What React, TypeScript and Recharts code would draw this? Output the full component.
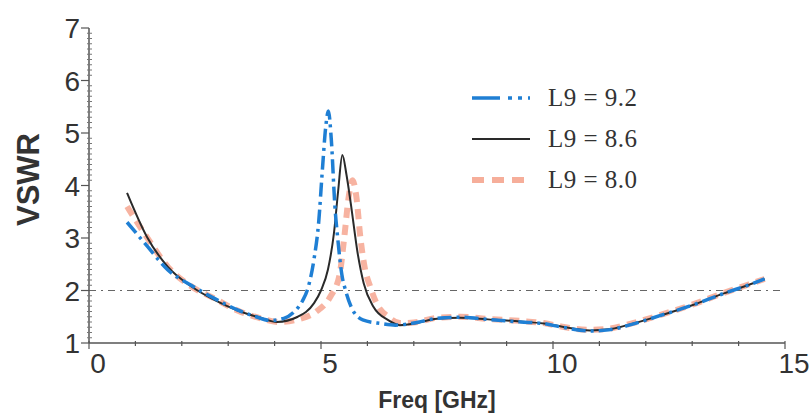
import React from 'react';
import { LineChart, Line, XAxis, YAxis, ReferenceLine } from 'recharts';

// ---- Data ----
const FREQ_92 = [0.82, 1.25, 1.7, 2.2, 2.7, 3.2, 3.6, 3.9, 4.2, 4.45, 4.6, 4.72, 4.85, 4.95, 5.03, 5.1, 5.16, 5.22, 5.3, 5.36, 5.45, 5.53, 5.65, 5.9, 6.3, 6.6, 7.0, 7.5, 8.0, 8.6, 9.3, 9.8, 10.2, 10.8, 11.2, 11.6, 12.3, 13.0, 13.7, 14.2, 14.56];
const VSWR_92 = [3.30, 2.85, 2.39, 2.10, 1.85, 1.63, 1.50, 1.43, 1.47, 1.62, 1.80, 2.05, 2.6, 3.3, 4.3, 5.1, 5.42, 4.9, 3.6, 3.0, 2.3, 2.0, 1.69, 1.44, 1.37, 1.34, 1.38, 1.47, 1.49, 1.45, 1.40, 1.37, 1.30, 1.23, 1.25, 1.33, 1.52, 1.72, 1.95, 2.10, 2.22];

const FREQ_86 = [0.82, 1.25, 1.7, 2.2, 2.7, 3.2, 3.7, 4.05, 4.5, 4.85, 5.0, 5.15, 5.28, 5.37, 5.46, 5.55, 5.64, 5.79, 5.92, 6.13, 6.44, 6.7, 7.0, 7.5, 8.0, 8.6, 9.3, 9.8, 10.2, 10.8, 11.2, 11.6, 12.3, 13.0, 13.7, 14.2, 14.56];
const VSWR_86 = [3.86, 3.02, 2.45, 2.08, 1.82, 1.62, 1.48, 1.40, 1.50, 1.76, 2.0, 2.4, 3.1, 3.9, 4.58, 4.2, 3.67, 2.71, 2.14, 1.69, 1.44, 1.34, 1.37, 1.46, 1.48, 1.45, 1.41, 1.37, 1.31, 1.24, 1.26, 1.34, 1.52, 1.72, 1.95, 2.10, 2.22];

const FREQ_80 = [0.82, 1.2, 1.7, 2.2, 2.7, 3.2, 3.7, 4.1, 4.5, 4.9, 5.2, 5.4, 5.5, 5.6, 5.68, 5.76, 5.85, 5.95, 6.05, 6.2, 6.45, 6.7, 7.0, 7.5, 8.0, 8.6, 9.3, 9.8, 10.2, 10.8, 11.2, 11.6, 12.3, 13.0, 13.7, 14.2, 14.56];
const VSWR_80 = [3.6, 3.08, 2.45, 2.08, 1.85, 1.62, 1.47, 1.40, 1.45, 1.60, 1.88, 2.3, 3.0, 3.8, 4.1, 3.8, 3.0, 2.4, 2.1, 1.75, 1.5, 1.38, 1.39, 1.48, 1.50, 1.46, 1.42, 1.38, 1.31, 1.25, 1.27, 1.35, 1.53, 1.73, 1.96, 2.11, 2.22];

const LEGEND_LABELS = ['L9 = 9.2', 'L9 = 8.6', 'L9 = 8.0'];
const X_MAJOR = [0, 5, 10, 15];
const X_TICKS = [0, 1, 2, 3, 4, 5, 6, 7, 8, 9, 10, 11, 12, 13, 14, 15];
const Y_MAJOR = [1, 2, 3, 4, 5, 6, 7];
const Y_TICKS = Array.from({ length: 61 }, (_, i) => Math.round((1 + i / 10) * 10) / 10);
const THRESHOLD = 2;

const toRows = (fs: number[], vs: number[]) => fs.map((f, i) => ({ f, v: vs[i] }));
const data92 = toRows(FREQ_92, VSWR_92);
const data86 = toRows(FREQ_86, VSWR_86);
const data80 = toRows(FREQ_80, VSWR_80);

const BLUE = '#1f7fd4';
const BLACK = '#2a2a2a';
const RED = '#f5a089';
const AXIS = '#555';

const XTick = (props: any) => {
  const { x, y, payload } = props;
  const major = X_MAJOR.includes(payload.value);
  return (
    <g>
      <line x1={x} x2={x} y1={y - 2} y2={y + (major ? 6 : 3)} stroke={AXIS} strokeWidth={1.2} />
      {major && (
        <text x={x + 9} y={y + 30} textAnchor="middle" fontFamily="Liberation Sans, Arial, sans-serif" fontSize={28} fill="#333">
          {payload.value}
        </text>
      )}
    </g>
  );
};

const YTick = (props: any) => {
  const { x, y, payload } = props;
  const major = Y_MAJOR.includes(payload.value);
  return (
    <g>
      {major ? (
        <line x1={x - 8} x2={x} y1={y} y2={y} stroke={AXIS} strokeWidth={1.2} />
      ) : (
        <line x1={x - 2} x2={x + 3} y1={y} y2={y} stroke="#777" strokeWidth={1} />
      )}
      {major && (
        <text x={x - 9} y={y + 10} textAnchor="end" fontFamily="Liberation Sans, Arial, sans-serif" fontSize={28} fill="#333">
          {payload.value}
        </text>
      )}
    </g>
  );
};

const XLabel = (props: any) => {
  const vb = props.viewBox;
  return (
    <text x={vb.x + vb.width / 2} y={vb.y + vb.height - 6} textAnchor="middle" fontFamily="Liberation Sans, Arial, sans-serif" fontSize={23} fontWeight="bold" fill="#333">
      Freq [GHz]
    </text>
  );
};

const YLabel = (props: any) => {
  const vb = props.viewBox;
  const cx = vb.x + 39;
  const cy = vb.y + vb.height / 2 - 6;
  return (
    <text x={cx} y={cy} transform={`rotate(-90 ${cx} ${cy})`} textAnchor="middle" fontFamily="Liberation Sans, Arial, sans-serif" fontSize={31} fontWeight="bold" fill="#333">
      VSWR
    </text>
  );
};

const LEGEND_STYLES = [
  { stroke: BLUE, width: 3.5, dash: '28 8 4 6 4 6', opacity: 1 },
  { stroke: BLACK, width: 2, dash: undefined, opacity: 1 },
  { stroke: RED, width: 6, dash: '12 8', opacity: 0.85 },
];

const LegendBox = () => (
  <div style={{ position: 'absolute', left: 470, top: 77, display: 'flex', flexDirection: 'column' }}>
    {LEGEND_LABELS.map((label, i) => (
      <div key={label} style={{ display: 'flex', alignItems: 'center', height: 41 }}>
        <svg width={78} height={20}>
          <line x1={2} x2={60} y1={10} y2={10} stroke={LEGEND_STYLES[i].stroke} strokeWidth={LEGEND_STYLES[i].width} strokeDasharray={LEGEND_STYLES[i].dash} opacity={LEGEND_STYLES[i].opacity} />
        </svg>
        <span style={{ fontFamily: 'Liberation Serif, Times New Roman, serif', fontSize: 25, color: '#333', letterSpacing: 0.5, lineHeight: '25px' }}>{label}</span>
      </div>
    ))}
  </div>
);

export default function App() {
  return (
    <div style={{ position: 'absolute', left: 0, top: 0, width: 809, height: 414, background: '#fff' }}>
      <LineChart width={809} height={414} margin={{ top: 28, right: 24, bottom: 0, left: 0 }}>
        <XAxis
          type="number"
          dataKey="f"
          domain={[0, 15]}
          ticks={X_TICKS}
          interval={0}
          allowDataOverflow
          height={71}
          tickSize={0}
          tickMargin={0}
          tickLine={false}
          tick={<XTick />}
          axisLine={{ stroke: AXIS, strokeWidth: 1.5 }}
          label={<XLabel />}
        />
        <YAxis
          type="number"
          dataKey="v"
          domain={[1, 7]}
          ticks={Y_TICKS}
          interval={0}
          allowDataOverflow
          width={89}
          tickSize={0}
          tickMargin={0}
          tickLine={false}
          tick={<YTick />}
          axisLine={{ stroke: AXIS, strokeWidth: 1.5 }}
          label={<YLabel />}
        />
        <ReferenceLine y={THRESHOLD} stroke="#666" strokeWidth={1.2} strokeDasharray="7 5 2 5" />
        <Line data={data80} dataKey="v" type="monotone" stroke={RED} strokeWidth={6} strokeDasharray="10 7" strokeOpacity={0.8} dot={false} isAnimationActive={false} />
        <Line data={data86} dataKey="v" type="monotone" stroke={BLACK} strokeWidth={2} dot={false} isAnimationActive={false} />
        <Line data={data92} dataKey="v" type="monotone" stroke={BLUE} strokeWidth={3.5} strokeDasharray="14 5 3 5" dot={false} isAnimationActive={false} />
      </LineChart>
      <LegendBox />
    </div>
  );
}
